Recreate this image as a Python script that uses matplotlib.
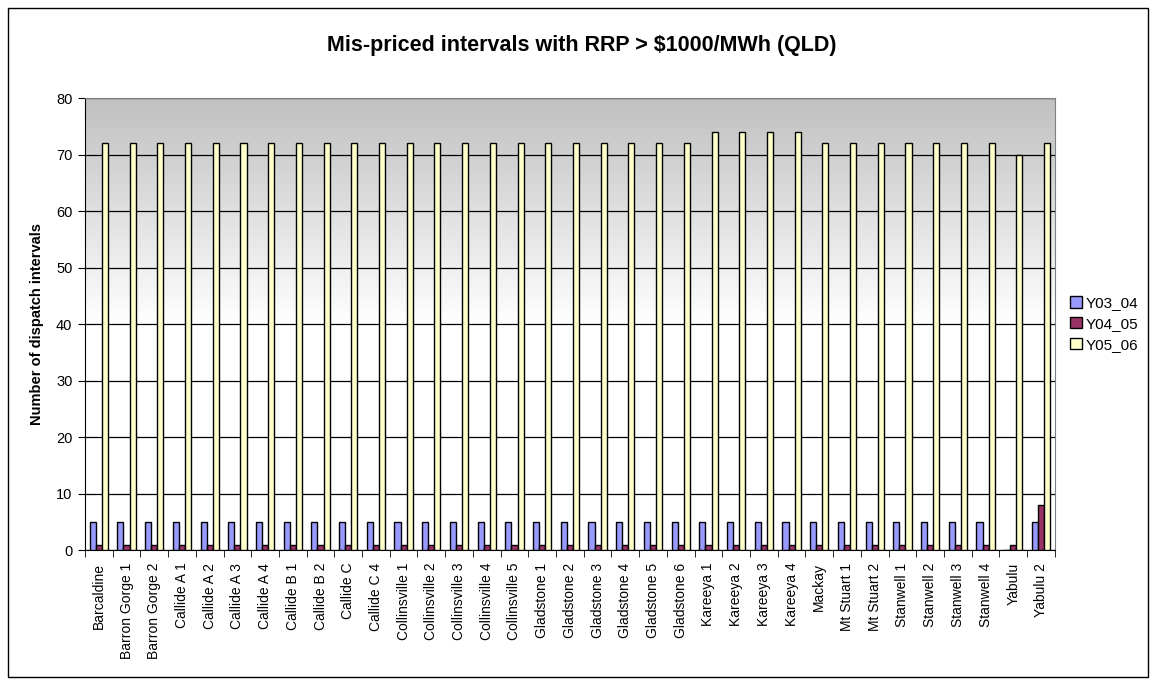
import numpy as np
import matplotlib.pyplot as plt
from matplotlib.colors import LinearSegmentedColormap

plt.rcParams['font.family'] = ['Liberation Sans', 'DejaVu Sans']

stations = ['Barcaldine', 'Barron Gorge 1', 'Barron Gorge 2', 'Callide A 1', 'Callide A 2',
            'Callide A 3', 'Callide A 4', 'Callide B 1', 'Callide B 2', 'Callide C',
            'Callide C 4', 'Collinsville 1', 'Collinsville 2', 'Collinsville 3',
            'Collinsville 4', 'Collinsville 5', 'Gladstone 1', 'Gladstone 2', 'Gladstone 3',
            'Gladstone 4', 'Gladstone 5', 'Gladstone 6', 'Kareeya 1', 'Kareeya 2',
            'Kareeya 3', 'Kareeya 4', 'Mackay', 'Mt Stuart 1', 'Mt Stuart 2', 'Stanwell 1',
            'Stanwell 2', 'Stanwell 3', 'Stanwell 4', 'Yabulu', 'Yabulu 2']
y03_04 = [5] * 33 + [0, 5]
y04_05 = [1] * 34 + [8]
y05_06 = [72] * 22 + [74, 74, 74, 74] + [72] * 7 + [70, 72]

series = [('Y03_04', y03_04, '#9999ff'),
          ('Y04_05', y04_05, '#993366'),
          ('Y05_06', y05_06, '#ffffcc')]

fig = plt.figure(figsize=(11.56, 6.86), dpi=100)
ax = fig.add_axes([0.0735, 0.198, 0.839, 0.659])

x = np.arange(len(stations))
w = 0.22
for i, (name, vals, col) in enumerate(series):
    ax.bar(x + (i - 1) * w, vals, width=w, color=col, edgecolor='black',
           linewidth=1, label=name, zorder=3)

ax.set_xlim(-0.5, len(stations) - 0.5)
ax.set_ylim(0, 80)

# grey-to-white background
cmap = LinearSegmentedColormap.from_list('bg', ['#ffffff', '#ffffff', '#c0c0c0'])
grad = np.linspace(0, 1, 256).reshape(-1, 1)
ax.imshow(grad, cmap=cmap, aspect='auto', origin='lower',
          extent=(-0.5, len(stations) - 0.5, 0, 80), zorder=0)

ax.set_yticks(range(0, 81, 10))
ax.yaxis.grid(True, color='black', linewidth=0.9, zorder=1)
ax.set_xticks(x)
ax.set_xticklabels(stations, rotation=90, fontsize=10)
ax.set_xticks(np.arange(-0.5, len(stations)), minor=True)
ax.tick_params(axis='x', which='major', length=0, pad=9)
ax.tick_params(axis='x', which='minor', length=5, direction='out')
ax.tick_params(axis='y', labelsize=10.5, length=5, pad=4)

for s in ['top', 'right']:
    ax.spines[s].set_color('#808080')
ax.spines['left'].set_color('black')
ax.spines['bottom'].set_color('black')

ax.set_ylabel('Number of dispatch intervals', fontsize=10.5, fontweight='bold', labelpad=9)
fig.text(0.503, 1 - 51 / 686, 'Mis-priced intervals with RRP > $1000/MWh (QLD)',
         fontsize=15.5, fontweight='bold', ha='center', va='baseline')

ax.legend(loc='center left', bbox_to_anchor=(1.0, 0.5), frameon=False,
          fontsize=11, handlelength=0.75, handleheight=0.75, handletextpad=0.25,
          labelspacing=0.45, borderaxespad=0.6)

fig.patches.append(plt.Rectangle((0.007, 0.013), 0.986, 0.975, transform=fig.transFigure,
                                 fill=False, edgecolor='black', linewidth=1))

fig.savefig('out.png', dpi=100)
